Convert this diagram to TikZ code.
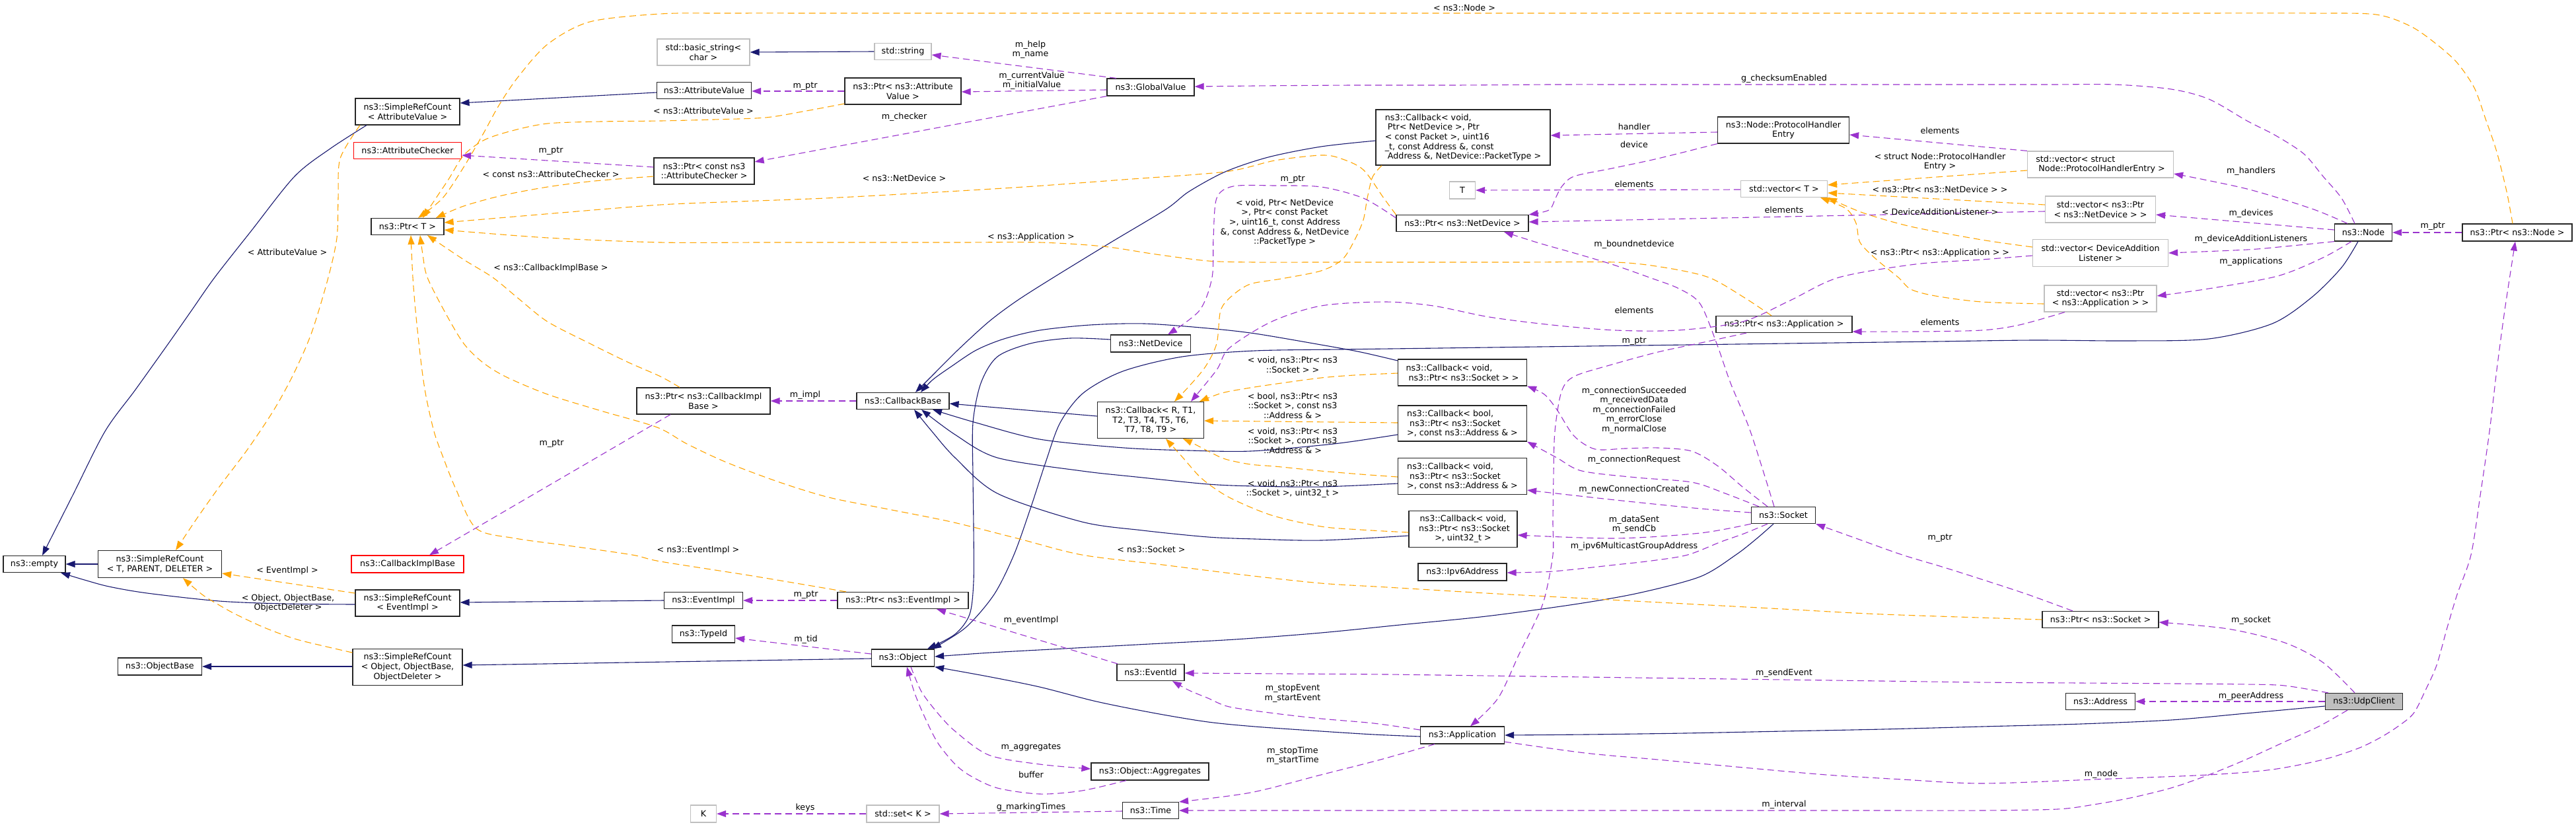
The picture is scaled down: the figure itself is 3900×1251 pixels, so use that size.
\documentclass[tikz,border=0pt]{standalone}
\usepackage{fontspec}
\setmainfont{DejaVu Sans}
\usetikzlibrary{arrows.meta}
\definecolor{inhc}{HTML}{191970}
\definecolor{usec}{HTML}{9A32CD}
\definecolor{tplc}{HTML}{FFA500}
\definecolor{greyb}{HTML}{BFBFBF}
\newcommand\dfont{\fontsize{12.7}{14.6}\selectfont}
\tikzset{
  cbox/.style={draw=black!85, line width=1.2pt, fill=white, inner sep=0pt, align=center, font=\dfont},
  gbox/.style={cbox, draw=greyb},
  rbox/.style={cbox, draw=red},
  mbox/.style={cbox, fill=greyb},
  sz/.style 2 args={minimum width=#1pt, minimum height=#2pt},
  lbl/.style={inner sep=0pt, align=center, font=\dfont},
  ahead/.style={-{Triangle[length=14pt,width=10pt]}},
  inh/.style={draw=inhc, line width=1.1pt, ahead},
  use/.style={draw=usec, line width=1.1pt, dash pattern=on 10pt off 6pt, ahead},
  tpl/.style={draw=tplc, line width=1.1pt, dash pattern=on 10pt off 6pt, ahead},
}
\begin{document}
\begin{tikzpicture}[x=1pt, y=-1pt]
\fill[white] (0,0) rectangle (3900,1251);
\useasboundingbox (0,0) rectangle (3900,1251);

% ---------------- nodes ----------------
\node[cbox, sz={94}{25}] (empty) at (52,854) {ns3::empty};
\node[cbox, sz={187}{41}] (srctpd) at (242,854) {ns3::SimpleRefCount\\< T, PARENT, DELETER >};
\node[cbox, sz={127}{26}] (objbase) at (242,1009) {ns3::ObjectBase};
\node[cbox, sz={158}{40}] (srcav) at (617,169) {ns3::SimpleRefCount\\< AttributeValue >};
\node[rbox, sz={163}{25}] (attrchk) at (617,228) {ns3::AttributeChecker};
\node[cbox, sz={110}{25}] (ptrT) at (617,343) {ns3::Ptr< T >};
\node[rbox, sz={170}{26}] (cbimplbase) at (617,854) {ns3::CallbackImplBase};
\node[cbox, sz={158}{40}] (srcei) at (617,913) {ns3::SimpleRefCount\\< EventImpl >};
\node[cbox, sz={166}{55}] (srcobj) at (617,1010) {ns3::SimpleRefCount\\< Object, ObjectBase,\\ObjectDeleter >};
\node[gbox, sz={140}{40}] (bstr) at (1065,79) {std::basic\_string<\\char >};
\node[cbox, sz={143}{25}] (attrval) at (1066,137) {ns3::AttributeValue};
\node[cbox, sz={152}{40}] (ptrac) at (1066,259) {ns3::Ptr< const ns3\\::AttributeChecker >};
\node[cbox, sz={202}{40}] (ptrcbi) at (1065,607) {ns3::Ptr< ns3::CallbackImpl\\Base >};
\node[cbox, sz={119}{25}] (eventimpl) at (1065,909) {ns3::EventImpl};
\node[cbox, sz={95}{26}] (typeid) at (1065,960) {ns3::TypeId};
\node[gbox, sz={39}{26}] (K) at (1065,1232) {K};
\node[gbox, sz={86}{25}] (str) at (1367,78) {std::string};
\node[cbox, sz={176}{40}] (ptrav) at (1367,138) {ns3::Ptr< ns3::Attribute\\Value >};
\node[cbox, sz={140}{25}] (cbbase) at (1367,607) {ns3::CallbackBase};
\node[cbox, sz={198}{25}] (ptrei) at (1367,909) {ns3::Ptr< ns3::EventImpl >};
\node[cbox, sz={95}{26}] (object) at (1367,996) {ns3::Object};
\node[gbox, sz={110}{26}] (setK) at (1367,1232) {std::set< K >};
\node[cbox, sz={132}{26}] (gv) at (1742,132) {ns3::GlobalValue};
\node[cbox, sz={121}{26}] (netdev) at (1742,520) {ns3::NetDevice};
\node[cbox, sz={161}{55}] (cbrt) at (1742,636) {ns3::Callback< R, T1,\\T2, T3, T4, T5, T6,\\T7, T8, T9 >};
\node[cbox, sz={102}{25}] (eventid) at (1742,1018) {ns3::EventId};
\node[cbox, sz={178}{26}] (aggr) at (1741,1168) {ns3::Object::Aggregates};
\node[cbox, sz={85}{25}] (time) at (1742,1227) {ns3::Time};
\node[cbox, sz={264}{84}, align=left] (cbnd) at (2215,208) {ns3::Callback< void,\\\ Ptr< NetDevice >, Ptr\\< const Packet >, uint16\\\_t, const Address \&, const\\\ Address \&, NetDevice::PacketType >};
\node[gbox, sz={39}{26}] (T) at (2214,288) {T};
\node[cbox, sz={200}{25}] (ptrnd) at (2214,338) {ns3::Ptr< ns3::NetDevice >};
\node[cbox, sz={195}{40}, align=left] (cbsock) at (2214,564) {ns3::Callback< void,\\\ ns3::Ptr< ns3::Socket > >};
\node[cbox, sz={195}{54}, align=left] (cbba) at (2214,641) {ns3::Callback< bool,\\\ ns3::Ptr< ns3::Socket\\>, const ns3::Address \& >};
\node[cbox, sz={195}{55}, align=left] (cbva) at (2214,721) {ns3::Callback< void,\\\ ns3::Ptr< ns3::Socket\\>, const ns3::Address \& >};
\node[cbox, sz={164}{55}] (cbu32) at (2215,801) {ns3::Callback< void,\\\ ns3::Ptr< ns3::Socket\\>, uint32\_t >};
\node[cbox, sz={134}{26}] (ipv6) at (2214,866) {ns3::Ipv6Address};
\node[cbox, sz={127}{26}] (app) at (2214,1113) {ns3::Application};
\node[cbox, sz={199}{40}] (phe) at (2700,197) {ns3::Node::ProtocolHandler\\Entry};
\node[gbox, sz={131}{25}] (vecT) at (2701,286) {std::vector< T >};
\node[cbox, sz={206}{25}] (ptrapp) at (2701,491) {ns3::Ptr< ns3::Application >};
\node[cbox, sz={97}{25}] (socket) at (2700,780) {ns3::Socket};
\node[gbox, sz={221}{40}, align=left] (vecphe) at (3180,249) {std::vector< struct\\\ Node::ProtocolHandlerEntry >};
\node[gbox, sz={167}{40}] (vecpnd) at (3180,317) {std::vector< ns3::Ptr\\< ns3::NetDevice > >};
\node[gbox, sz={205}{41}] (vecdal) at (3180,383) {std::vector< DeviceAddition\\Listener >};
\node[gbox, sz={170}{40}] (vecpapp) at (3180,452) {std::vector< ns3::Ptr\\< ns3::Application > >};
\node[cbox, sz={176}{25}] (ptrsock) at (3180,938) {ns3::Ptr< ns3::Socket >};
\node[cbox, sz={105}{25}] (address) at (3180,1062) {ns3::Address};
\node[cbox, sz={87}{26}] (node) at (3578,352) {ns3::Node};
\node[cbox, sz={166}{26}] (ptrnode) at (3811,352) {ns3::Ptr< ns3::Node >};
\node[mbox, sz={117}{25}] (udp) at (3579,1062) {ns3::UdpClient};

% ---------------- inheritance ----------------
\draw[inh] plot[smooth] coordinates {(srcav.south -| 555,0) (500,225) (446,267) (380,350) (325,420) (290,470) (255,520) (205,590) (159,653) (110,750) (empty.north -| 64,0)};
\draw[inh] (attrval.west |- 0,140) -- (srcav.east |- 0,156);
\draw[inh] (str.west) -- (bstr.east |- 0,79);
\draw[inh] (srctpd.west) -- (empty.east);
\draw[inh] plot[smooth] coordinates {(srcei.west |- 0,915) (430,914) (332,910) (223,898) (165,888) (128,878) (empty.south -| 92,0)};
\draw[inh] (eventimpl.west) -- (srcei.east |- 0,912);
\draw[inh] (srcobj.west |- 0,1009) -- (objbase.east);
\draw[inh] (object.west |- 0,997) -- (srcobj.east |- 0,1007);
\draw[inh] plot[smooth] coordinates {(netdev.west |- 0,514) (1620,512) (1560,520) (1510,540) (1485,580) (1473,640) (1473,720) (1474,800) (1474,880) (1468,930) (1446,960) (object.north -| 1404,0)};
\draw[inh] plot[smooth] coordinates {(node.south -| 3570,0) (3545,405) (3500,450) (3440,490) (3344,513) (3220,516) (3080,515) (2930,517) (2780,519) (2630,521) (2480,523) (2330,525) (2180,527) (2030,529) (1900,531) (1790,540) (1700,562) (1640,595) (1605,640) (1583,700) (1560,770) (1535,840) (1505,900) (1462,950) (object.north -| 1411,0)};
\draw[inh] plot[smooth] coordinates {(socket.south -| 2685,0) (2660,815) (2628,840) (2574,873) (2480,898) (2383,915) (2250,933) (2120,946) (2000,958) (1870,968) (1740,975) (1610,982) (1500,988) (object.east |- 0,994)};
\draw[inh] plot[smooth] coordinates {(app.west |- 0,1115) (2080,1112) (2000,1107) (1900,1100) (1829,1093) (1750,1080) (1660,1062) (1574,1040) (1495,1024) (object.south east)};
\draw[inh] plot[smooth] coordinates {(udp.west |- 0,1069) (3400,1080) (3287,1090) (3150,1096) (3000,1100) (2850,1104) (2700,1107) (2550,1110) (2400,1112) (app.east |- 0,1113)};
\draw[inh] plot[smooth] coordinates {(cbnd.west |- 0,213) (2000,222) (1920,238) (1855,260) (1800,290) (1765,317) (1680,368) (1595,420) (1540,455) (1497,487) (1450,530) (1410,570) (cbbase.north -| 1386,0)};
\draw[inh] plot[smooth] coordinates {(cbsock.west |- 0,546) (2060,533) (2000,522) (1900,505) (1829,497) (1733,490) (1650,492) (1574,500) (1520,513) (1478,530) (1440,555) (1412,575) (cbbase.north -| 1394,0)};
\draw[inh] (cbrt.west |- 0,630) -- (cbbase.east |- 0,611);
\draw[inh] plot[smooth] coordinates {(cbba.west |- 0,658) (2050,668) (2000,674) (1893,683) (1800,682) (1702,678) (1574,665) (1478,640) (cbbase.south -| 1412,0)};
\draw[inh] plot[smooth] coordinates {(cbva.west |- 0,732) (2000,737) (1900,736) (1829,733) (1720,722) (1638,713) (1510,693) (1446,658) (cbbase.south -| 1395,0)};
\draw[inh] plot[smooth] coordinates {(cbu32.west |- 0,811) (2000,818) (1900,816) (1829,813) (1730,803) (1638,790) (1510,747) (1446,693) (1410,652) (cbbase.south -| 1384,0)};

% ---------------- template instances ----------------
\draw[tpl] plot[smooth] coordinates {(srcav.south -| 545,0) (515,240) (512,300) (510,360) (497,420) (472,503) (445,565) (415,620) (375,680) (332,737) (298,785) (srctpd.north -| 266,0)};
\draw[tpl] (srcei.west |- 0,898) -- (srctpd.east |- 0,868);
\draw[tpl] plot[smooth] coordinates {(srcobj.west |- 0,988) (490,978) (446,967) (400,950) (357,930) (330,915) (306,900) (srctpd.south -| 277,0)};
\draw[tpl] plot[smooth] coordinates {(ptrav.west |- 0,157) (1220,168) (1159,178) (1080,181) (1000,183) (910,184) (829,187) (775,198) (733,212) (702,235) (680,270) (660,300) (ptrT.north -| 640,0)};
\draw[tpl] plot[smooth] coordinates {(ptrac.west |- 0,267) (900,274) (829,283) (760,296) (702,312) (ptrT.north -| 660,0)};
\draw[tpl] plot[smooth] coordinates {(ptrnd.north west) (2095,300) (2064,257) (2030,240) (2000,235) (1930,243) (1855,260) (1700,272) (1550,283) (1400,292) (1250,300) (1120,305) (1000,310) (850,322) (ptrT.east |- 0,337)};
\draw[tpl] plot[smooth] coordinates {(ptrapp.north -| 2682,0) (2640,450) (2587,420) (2520,405) (2446,397) (2300,397) (2150,397) (2000,397) (1900,397) (1829,395) (1750,385) (1670,373) (1574,367) (1450,367) (1300,367) (1150,367) (1000,367) (829,360) (ptrT.east |- 0,348)};
\draw[tpl] plot[smooth] coordinates {(ptrcbi.north -| 1029,0) (1000,570) (950,548) (893,520) (829,487) (785,452) (746,420) (702,393) (ptrT.south -| 647,0)};
\draw[tpl] plot[smooth] coordinates {(ptrei.north -| 1281,0) (1140,872) (1000,850) (957,840) (860,826) (780,815) (721,800) (690,740) (670,690) (657,653) (645,600) (638,553) (630,480) (625,420) (ptrT.south -| 622,0)};
\draw[tpl] plot[smooth] coordinates {(ptrsock.west |- 0,938) (2850,930) (2700,922) (2550,914) (2400,906) (2250,898) (2100,889) (2000,883) (1880,870) (1760,855) (1638,840) (1540,815) (1440,790) (1340,770) (1255,753) (1180,730) (1100,700) (1040,672) (995,647) (910,622) (829,597) (765,570) (730,548) (702,520) (675,475) (647,420) (640,385) (ptrT.south -| 636,0)};
\draw[tpl] plot[smooth] coordinates {(ptrnode.north -| 3804,0) (3795,290) (3780,230) (3763,180) (3746,133) (3720,95) (3689,67) (3650,40) (3597,22) (3500,20) (3300,20) (3100,20) (2900,20) (2700,20) (2500,20) (2300,20) (2100,20) (1900,20) (1700,20) (1500,20) (1300,20) (1100,20) (1000,21) (893,33) (829,67) (784,117) (755,160) (733,200) (702,253) (670,300) (ptrT.north -| 633,0)};
\draw[tpl] (vecphe.west |- 0,258) -- (vecT.east |- 0,280);
\draw[tpl] (vecpnd.west |- 0,310) -- (vecT.east |- 0,292);
\draw[tpl] plot[smooth] coordinates {(vecdal.west |- 0,374) (3000,363) (2893,343) (2820,322) (vecT.south east)};
\draw[tpl] plot[smooth] coordinates {(vecpapp.west |- 0,460) (3000,457) (2930,448) (2893,438) (2874,420) (2840,392) (2816,367) (2810,338) (2795,316) (vecT.south -| 2756,0)};
\draw[tpl] plot[smooth] coordinates {(cbnd.south -| 2092,0) (2078,268) (2070,300) (2064,333) (2050,365) (2032,393) (2000,410) (1940,422) (1893,430) (1865,448) (1848,470) (1842,520) (1825,555) (1800,585) (cbrt.north -| 1778,0)};
\draw[tpl] plot[smooth] coordinates {(cbsock.west |- 0,565) (2050,568) (2000,572) (1940,580) (1893,587) (1850,595) (cbrt.north -| 1816,0)};
\draw[tpl] (cbba.west |- 0,640) -- (cbrt.east |- 0,637);
\draw[tpl] plot[smooth] coordinates {(cbva.west |- 0,722) (2060,718) (2000,713) (1930,706) (1893,703) (1855,695) (1829,683) (1808,672) (cbrt.south -| 1791,0)};
\draw[tpl] plot[smooth] coordinates {(cbu32.west |- 0,806) (2060,802) (2000,797) (1925,780) (1861,753) (1820,725) (1791,693) (cbrt.south -| 1765,0)};

% ---------------- usage ----------------
\draw[use] (gv.north -| 1690,0) -- (str.east |- 0,83);
\draw[use] (gv.west |- 0,136) -- (ptrav.east |- 0,139);
\draw[use] (gv.south west) -- (ptrac.east |- 0,245);
\draw[use] (ptrav.west |- 0,138) -- (attrval.east |- 0,138);
\draw[use] (ptrac.west |- 0,253) -- (attrchk.east |- 0,235);
\draw[use] plot[smooth] coordinates {(node.north -| 3565,0) (3545,300) (3517,267) (3488,233) (3445,205) (3402,183) (3344,150) (3287,135) (3201,128) (3100,128) (2950,128) (2800,128) (2650,128) (2500,128) (2350,128) (2200,129) (2050,129) (1900,130) (gv.east |- 0,131)};
\draw[use] (phe.west |- 0,200) -- (cbnd.east |- 0,205);
\draw[use] plot[smooth] coordinates {(phe.south west) (2510,240) (2440,255) (2383,267) (2364,283) (2355,300) (2345,318) (ptrnd.north east)};
\draw[use] (vecT.west |- 0,287) -- (T.east |- 0,288);
\draw[use] (vecphe.north west) -- (phe.east |- 0,204);
\draw[use] (vecpnd.west |- 0,320) -- (ptrnd.east |- 0,336);
\draw[use] plot[smooth] coordinates {(vecpapp.south -| 3126,0) (3057,492) (3000,500) (2900,502) (ptrapp.east |- 0,502)};
\draw[use] plot[smooth] coordinates {(vecdal.west |- 0,387) (3000,393) (2900,400) (2784,420) (2710,455) (2638,487) (2540,500) (2446,500) (2350,492) (2255,480) (2170,463) (2096,457) (2000,463) (1925,487) (1861,527) (1842,560) (cbrt.north -| 1803,0)};
\draw[use] plot[smooth] coordinates {(ptrnd.west |- 0,330) (2064,300) (2000,283) (1930,281) (1867,282) (1842,300) (1837,360) (1835,420) (1816,470) (netdev.north -| 1768,0)};
\draw[use] plot[smooth] coordinates {(ptrapp.south -| 2644,0) (2580,518) (2510,533) (2440,552) (2383,570) (2364,593) (2354,653) (2352,720) (2351,790) (2351,840) (2338,907) (2320,950) (2300,990) (2268,1057) (app.north -| 2226,0)};
\draw[use] plot[smooth] coordinates {(socket.north -| 2686,0) (2650,653) (2620,580) (2599,520) (2574,460) (2542,437) (2497,420) (2440,400) (2383,383) (2330,368) (ptrnd.south -| 2277,0)};
\draw[use] plot[smooth] coordinates {(socket.north -| 2676,0) (2638,737) (2600,705) (2561,683) (2510,678) (2460,679) (2415,680) (2383,660) (2357,620) (2338,597) (cbsock.south east)};
\draw[use] plot[smooth] coordinates {(socket.north -| 2663,0) (2612,747) (2561,730) (2478,723) (2395,713) (2357,693) (cbba.south east)};
\draw[use] plot[smooth] coordinates {(socket.west |- 0,776) (2574,770) (2446,757) (cbva.east |- 0,742)};
\draw[use] plot[smooth] coordinates {(socket.south west) (2574,807) (2446,815) (cbu32.east |- 0,810)};
\draw[use] plot[smooth] coordinates {(socket.south -| 2676,0) (2640,808) (2606,820) (2555,840) (2500,849) (2446,855) (2351,865) (ipv6.east |- 0,867)};
\draw[use] plot[smooth] coordinates {(ptrsock.north -| 3138,0) (3070,900) (3000,877) (2940,858) (2880,840) (2810,815) (socket.south east)};
\draw[use] plot[smooth] coordinates {(udp.north -| 3565,0) (3517,1003) (3459,973) (3373,952) (ptrsock.east |- 0,942)};
\draw[use] (udp.west) -- (address.east);
\draw[use] plot[smooth] coordinates {(udp.north -| 3525,0) (3459,1038) (3402,1036) (3300,1035) (3150,1034) (3000,1033) (2850,1031) (2700,1029) (2550,1027) (2400,1025) (2250,1023) (2100,1021) (1950,1020) (eventid.east |- 0,1019)};
\draw[use] plot[smooth] coordinates {(app.east |- 0,1123) (2400,1140) (2510,1150) (2640,1162) (2765,1173) (2880,1180) (3000,1186) (3170,1180) (3344,1173) (3440,1165) (3517,1150) (3570,1133) (3603,1117) (3630,1100) (3654,1080) (3672,1045) (3689,1007) (3705,950) (3720,900) (3741,840) (3755,750) (3769,653) (3780,560) (3792,470) (ptrnode.south -| 3808,0)};
\draw[use] plot[smooth] coordinates {(udp.south -| 3554,0) (3510,1100) (3459,1123) (3400,1150) (3344,1173) (3290,1192) (3230,1207) (3170,1218) (3115,1225) (3000,1227) (2850,1227) (2700,1227) (2550,1227) (2400,1227) (2250,1227) (2100,1227) (1950,1227) (1850,1227) (time.east |- 0,1227)};
\draw[use] plot[smooth] coordinates {(app.west |- 0,1105) (2080,1095) (2000,1088) (1930,1080) (1861,1070) (1829,1057) (1800,1045) (eventid.south -| 1775,0)};
\draw[use] plot[smooth] coordinates {(app.south -| 2172,0) (2090,1150) (2000,1173) (1893,1200) (time.north east)};
\draw[use] (eventid.north -| 1692,0) -- (ptrei.south -| 1418,0);
\draw[use] (ptrei.west) -- (eventimpl.east);
\draw[use] (object.west |- 0,990) -- (typeid.east |- 0,966);
\draw[use] plot[smooth] coordinates {(object.south -| 1379,0) (1395,1047) (1420,1080) (1446,1107) (1497,1143) (1574,1157) (aggr.west |- 0,1164)};
\draw[use] plot[smooth] coordinates {(aggr.south -| 1705,0) (1638,1197) (1574,1202) (1510,1193) (1470,1175) (1446,1157) (1420,1125) (1402,1090) (1385,1050) (object.south -| 1373,0)};
\draw[use] (setK.west) -- (K.east);
\draw[use] (time.west |- 0,1228) -- (setK.east |- 0,1232);
\draw[use] (cbbase.west) -- (ptrcbi.east |- 0,607);
\draw[use] (ptrcbi.south -| 1015,0) -- (cbimplbase.north -| 650,0);
\draw[use] plot[smooth] coordinates {(node.north -| 3554,0) (3500,316) (3402,286) (vecphe.east |- 0,263)};
\draw[use] (node.west |- 0,348) -- (vecpnd.east |- 0,325);
\draw[use] plot[smooth] coordinates {(node.south west) (3460,373) (3402,378) (vecdal.east |- 0,383)};
\draw[use] plot[smooth] coordinates {(node.south -| 3560,0) (3517,390) (3448,418) (3344,437) (vecpapp.east |- 0,448)};
\draw[use] (ptrnode.west) -- (node.east);

% ---------------- labels ----------------
\node[lbl] (la01) at (435,382) {< AttributeValue >};
\node[lbl] (la02) at (834,264) {< const ns3::AttributeChecker >};
\node[lbl] (la03) at (834,406) {< ns3::CallbackImplBase >};
\node[lbl] (la04) at (834,229) {m\_ptr};
\node[lbl] (la05) at (835,672) {m\_ptr};
\node[lbl] (la06) at (435,864) {< EventImpl >};
\node[lbl] (la07) at (436,913) {< Object, ObjectBase,\\ObjectDeleter >};
\node[lbl] (la08) at (1369,270) {< ns3::NetDevice >};
\node[lbl] (la09) at (1561,359) {< ns3::Application >};
\node[lbl] (la10) at (1369,177) {m\_checker};
\node[lbl] (la11) at (1560,75) {m\_help\\m\_name};
\node[lbl] (la12) at (1562,122) {m\_currentValue\\m\_initialValue};
\node[lbl] (la13) at (1219,131) {m\_ptr};
\node[lbl] (la14) at (1065,168) {< ns3::AttributeValue >};
\node[lbl] (la15) at (1219,598) {m\_impl};
\node[lbl] (la16) at (1057,833) {< ns3::EventImpl >};
\node[lbl] (la17) at (1743,832) {< ns3::Socket >};
\node[lbl] (la18) at (1957,272) {m\_ptr};
\node[lbl] (la19) at (1945,337) {< void, Ptr< NetDevice\\>, Ptr< const Packet\\>, uint16\_t, const Address\\\&, const Address \&, NetDevice\\::PacketType >};
\node[lbl] (la20) at (1957,552) {< void, ns3::Ptr< ns3\\::Socket > >};
\node[lbl] (la21) at (1957,614) {< bool, ns3::Ptr< ns3\\::Socket >, const ns3\\::Address \& >};
\node[lbl] (la22) at (1957,667) {< void, ns3::Ptr< ns3\\::Socket >, const ns3\\::Address \& >};
\node[lbl] (la23) at (1957,740) {< void, ns3::Ptr< ns3\\::Socket >, uint32\_t >};
\node[lbl] (la24) at (2474,621) {m\_connectionSucceeded\\m\_receivedData\\m\_connectionFailed\\m\_errorClose\\m\_normalClose};
\node[lbl] (la25) at (2474,696) {m\_connectionRequest};
\node[lbl] (la26) at (2474,741) {m\_newConnectionCreated};
\node[lbl] (la27) at (2474,794) {m\_dataSent\\m\_sendCb};
\node[lbl] (la28) at (2474,827) {m\_ipv6MulticastGroupAddress};
\node[lbl] (la29) at (2474,470) {elements};
\node[lbl] (la30) at (2474,517) {m\_ptr};
\node[lbl] (la31) at (2937,488) {elements};
\node[lbl] (la32) at (2937,815) {m\_ptr};
\node[lbl] (la33) at (2474,370) {m\_boundnetdevice};
\node[lbl] (la34) at (2474,279) {elements};
\node[lbl] (la35) at (2474,192) {handler};
\node[lbl] (la36) at (2474,219) {device};
\node[lbl] (la37) at (2937,198) {elements};
\node[lbl] (la38) at (2701,318) {elements};
\node[lbl] (la39) at (2701,119) {g\_checksumEnabled};
\node[lbl] (la40) at (2217,12) {< ns3::Node >};
\node[lbl] (la41) at (2937,245) {< struct Node::ProtocolHandler\\Entry >};
\node[lbl] (la42) at (2937,287) {< ns3::Ptr< ns3::NetDevice > >};
\node[lbl] (la43) at (2937,321) {< DeviceAdditionListener >};
\node[lbl] (la44) at (2937,383) {< ns3::Ptr< ns3::Application > >};
\node[lbl] (la45) at (3408,259) {m\_handlers};
\node[lbl] (la46) at (3408,323) {m\_devices};
\node[lbl] (la47) at (3408,362) {m\_deviceAdditionListeners};
\node[lbl] (la48) at (3408,396) {m\_applications};
\node[lbl] (la49) at (3683,343) {m\_ptr};
\node[lbl] (la50) at (3408,939) {m\_socket};
\node[lbl] (la51) at (3408,1054) {m\_peerAddress};
\node[lbl] (la52) at (3181,1172) {m\_node};
\node[lbl] (la53) at (2701,1019) {m\_sendEvent};
\node[lbl] (la54) at (2701,1218) {m\_interval};
\node[lbl] (la55) at (1957,1050) {m\_stopEvent\\m\_startEvent};
\node[lbl] (la56) at (1957,1144) {m\_stopTime\\m\_startTime};
\node[lbl] (la57) at (1561,939) {m\_eventImpl};
\node[lbl] (la58) at (1220,901) {m\_ptr};
\node[lbl] (la59) at (1220,968) {m\_tid};
\node[lbl] (la60) at (1561,1132) {m\_aggregates};
\node[lbl] (la61) at (1561,1173) {buffer};
\node[lbl] (la62) at (1219,1223) {keys};
\node[lbl] (la63) at (1561,1222) {g\_markingTimes};
\end{tikzpicture}
\end{document}
